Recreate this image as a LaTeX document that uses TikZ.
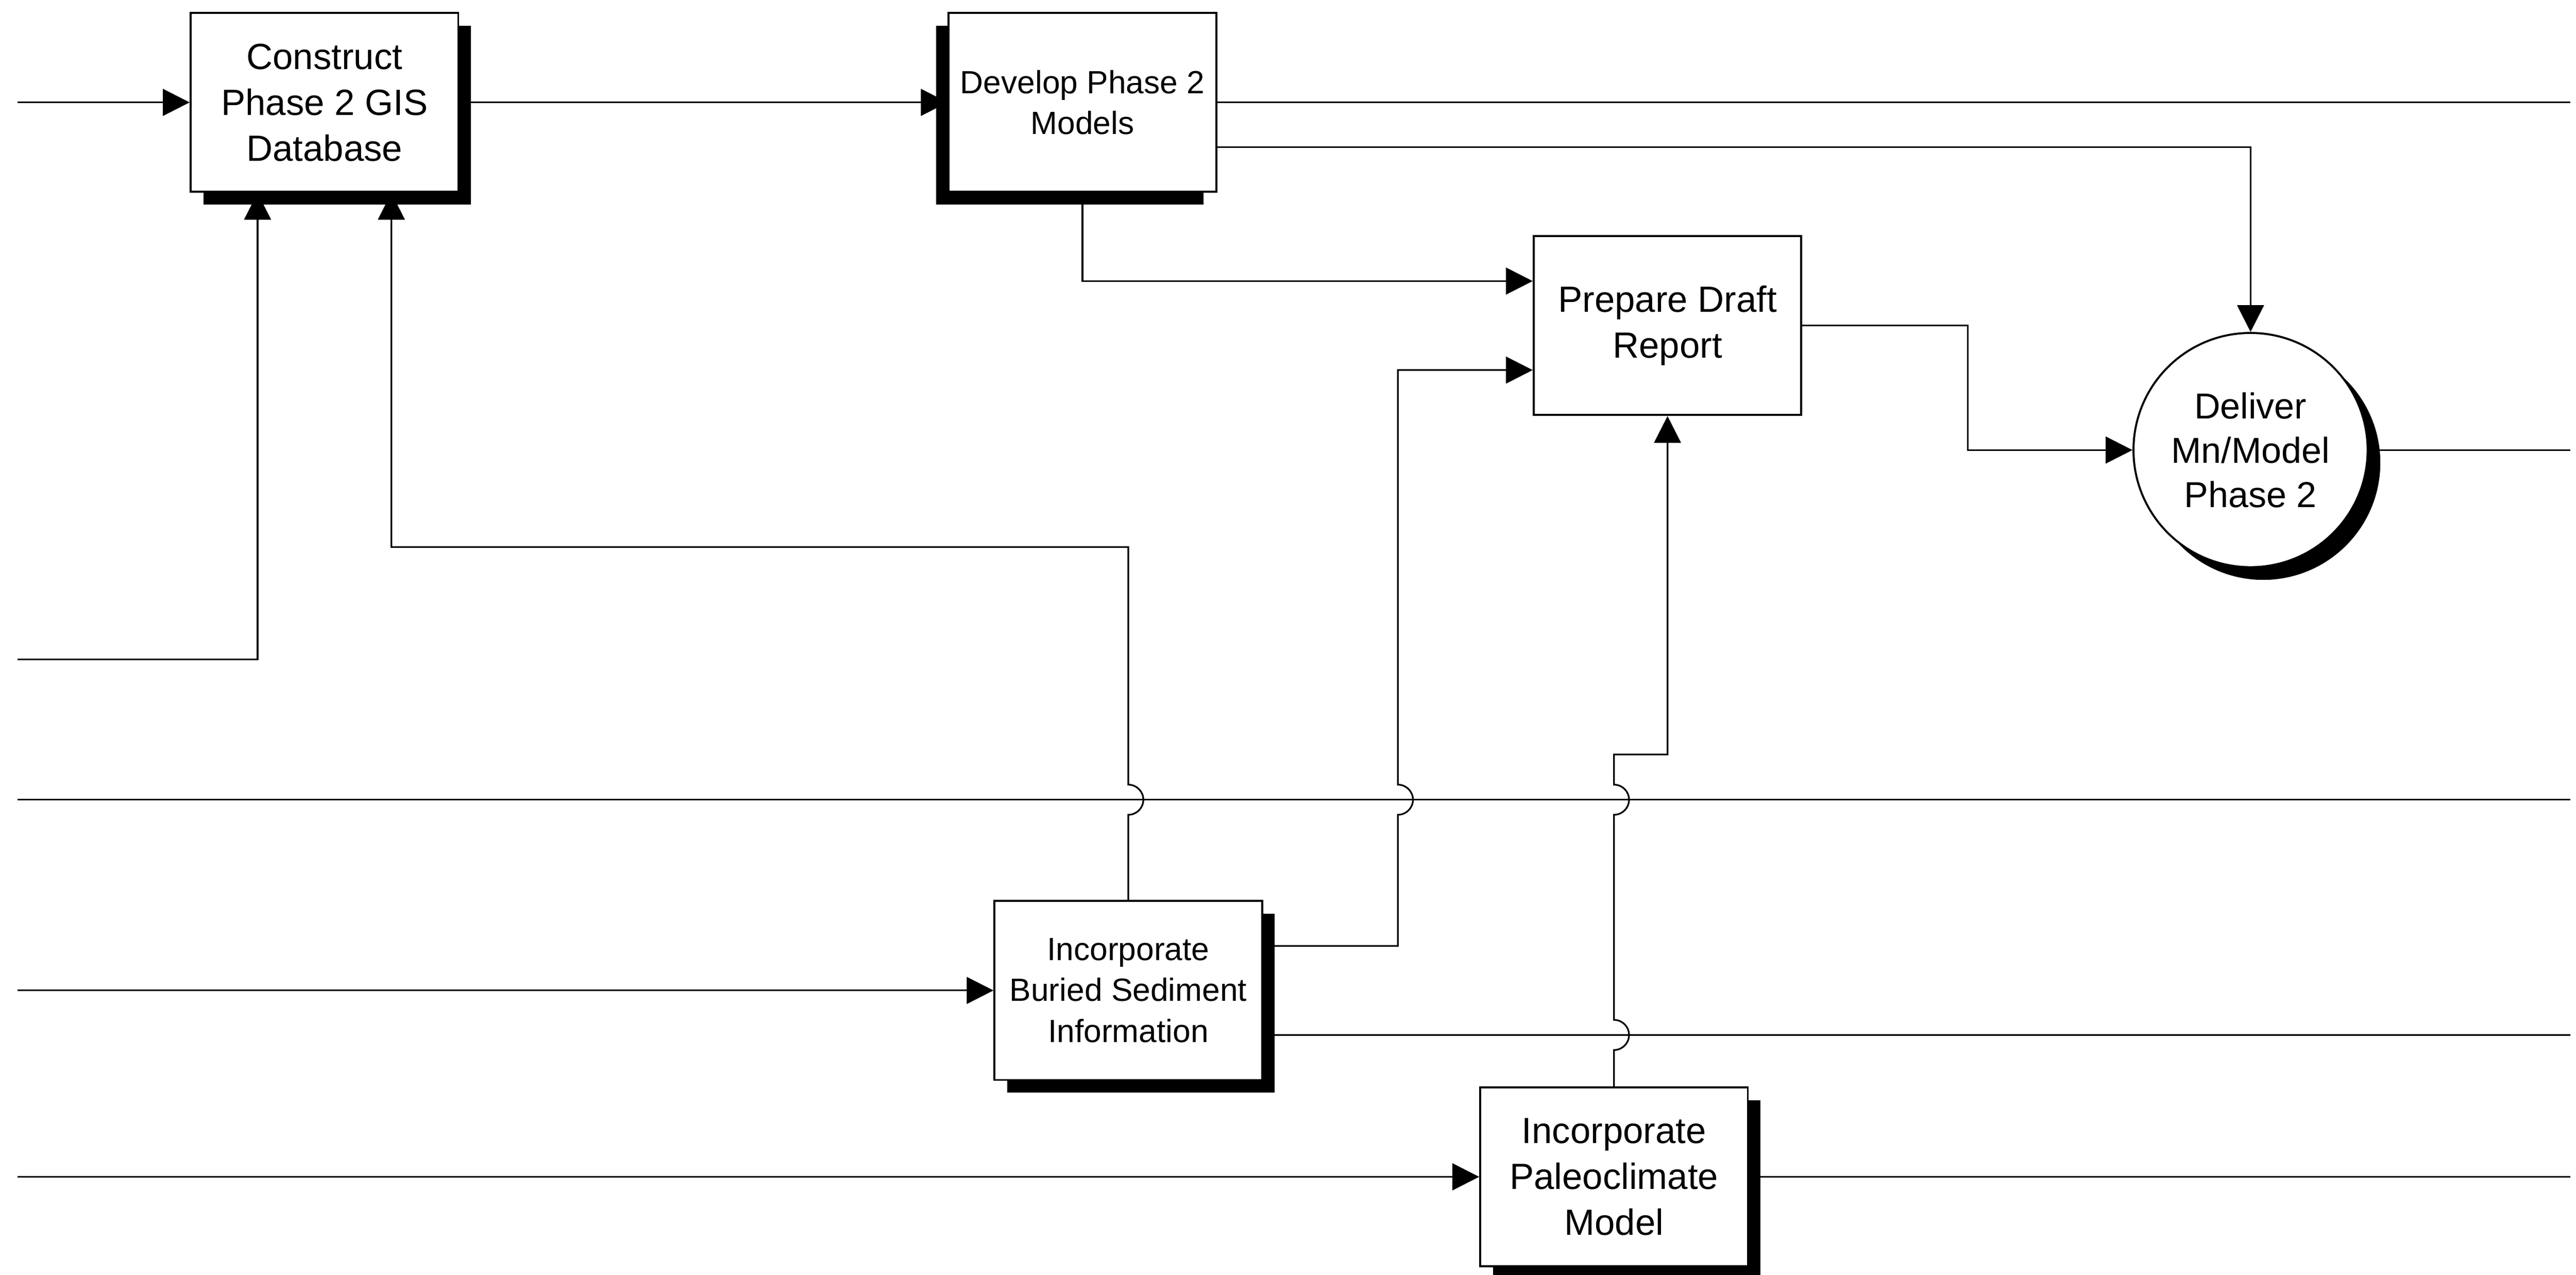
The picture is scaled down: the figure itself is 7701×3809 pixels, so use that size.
\documentclass[tikz,border=0pt]{standalone}
\usepackage{fontspec}
\setmainfont{Liberation Sans}
\usetikzlibrary{arrows.meta,shadows,backgrounds}

\tikzset{
  flow/.style={line width=0.5mm},
  into/.style={flow,-{Triangle[length=8mm,width=8mm]}},
  procbox/.style={draw,line width=0.6mm,fill=white,inner sep=0pt,
    minimum width=80mm,minimum height=53.5mm,align=center,
    font=\fontsize{31}{39}\selectfont},
  smalltext/.style={font=\fontsize{27.3}{34.7}\selectfont},
  shadowSE/.style={drop shadow={shadow xshift=3.8mm,shadow yshift=-3.8mm,fill=black,opacity=1}},
  shadowSW/.style={drop shadow={shadow xshift=-3.8mm,shadow yshift=-3.8mm,fill=black,opacity=1}},
}

\begin{document}
\begin{tikzpicture}[x=0.1mm,y=-0.1mm]
  \useasboundingbox (0,0) rectangle (7701,3809);

  \node[procbox,shadowSE] (construct) at (970,306) {Construct\\Phase 2 GIS\\Database};
  \node[procbox,smalltext,shadowSW] (develop) at (3236,306) {Develop Phase 2\\Models};
  \node[procbox] (prepare) at (4985,973) {Prepare Draft\\Report};
  \node[draw,circle,line width=0.6mm,fill=white,inner sep=0pt,minimum size=70mm,
    align=center,font=\fontsize{30.7}{37.8}\selectfont,shadowSE] (deliver) at (6728,1345)
    {Deliver\\Mn/Model\\Phase 2};
  \node[procbox,smalltext,shadowSE] (buried) at (3373,2960) {Incorporate\\Buried Sediment\\Information};
  \node[procbox,shadowSE] (paleo) at (4825,3517) {Incorporate\\Paleoclimate\\Model};

  \coordinate (in1) at (52,306);
  \coordinate (in2) at (52,1971);
  \coordinate (in3) at (52,2390);
  \coordinate (in4) at (52,2960);
  \coordinate (in5) at (52,3517);
  \coordinate (out1) at (7684,306);
  \coordinate (out2) at (7684,1345);
  \coordinate (out3) at (7684,2390);
  \coordinate (out4) at (7684,3093);
  \coordinate (out5) at (7684,3517);

  \begin{scope}[on background layer]
    \draw[into] (in1) -- (construct.west);
    \draw[into] (construct.east) -- (develop.west);
    \draw[flow] (develop.east) -- (out1);
    \draw[into] ([yshift=-13.4mm]develop.east) -| (deliver.north);
    \draw[into] (develop.south) |- ([yshift=13.3mm]prepare.west);
    \draw[into] (in2) -| ([xshift=-20mm]construct.south);
    \draw[into] (buried.north) -- (3373,2435) arc[start angle=90,end angle=-90,radius=45]
      |- (1170,1635) -- ([xshift=20mm]construct.south);
    \draw[into] ([yshift=13.3mm]buried.east) -| (4179,2435)
      arc[start angle=90,end angle=-90,radius=45] |- ([yshift=-13.3mm]prepare.west);
    \draw[into] (paleo.north) -- (4825,3138) arc[start angle=90,end angle=-90,radius=45]
      -- (4825,2435) arc[start angle=90,end angle=-90,radius=45]
      -- (4825,2255) -| (prepare.south);
    \draw[into] (prepare.east) -- ++(495,0) |- (deliver.west);
    \draw[flow] (deliver.east) -- (out2);
    \draw[flow] (in3) -- (out3);
    \draw[into] (in4) -- (buried.west);
    \draw[flow] ([yshift=-13.3mm]buried.east) -- (out4);
    \draw[into] (in5) -- (paleo.west);
    \draw[flow] (paleo.east) -- (out5);
  \end{scope}
\end{tikzpicture}
\end{document}
